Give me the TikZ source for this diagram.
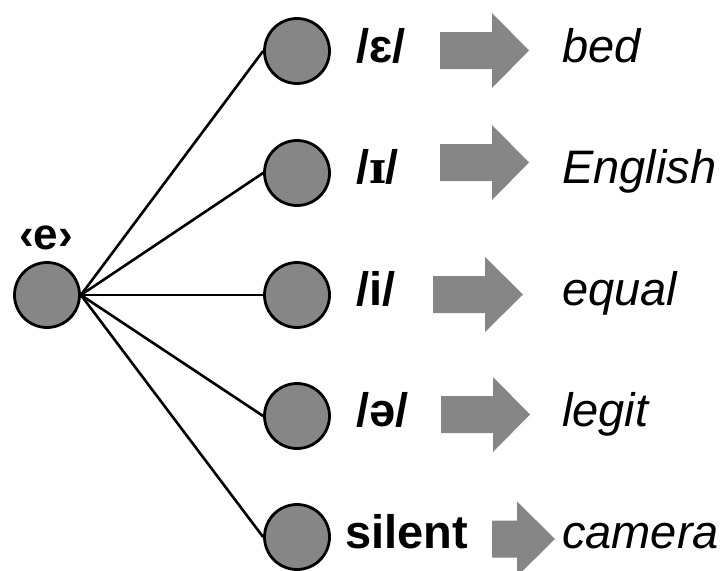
\documentclass[tikz,border=0pt]{standalone}
\usepackage{fontspec}
\setmainfont{Liberation Sans}
\newfontfamily\ipaserif{DejaVu Serif}
\definecolor{nodegray}{RGB}{134,134,134}
\begin{document}
\begin{tikzpicture}[x=1pt,y=-1pt,
  dot/.style={circle,draw=black,line width=2.8pt,fill=nodegray,minimum size=65pt,inner sep=0pt},
  link/.style={line width=2.6pt},
  phon/.style={anchor=base west,font=\fontsize{47}{50}\selectfont\bfseries,inner sep=0pt},
  word/.style={anchor=base west,font=\fontsize{47}{50}\selectfont\itshape,inner sep=0pt},
  blk/.style={fill=nodegray}]
\useasboundingbox (0,0) rectangle (725,570);
\node[dot] (e) at (47,295) {};
\node[anchor=base,font=\fontsize{44}{46}\selectfont\bfseries,inner sep=0pt] (elab) at (46,249) {‹e›};
\node[dot] (n1) at (297,51) {};
\node[dot] (n2) at (297,173) {};
\node[dot] (n3) at (297,295) {};
\node[dot] (n4) at (297,416) {};
\node[dot] (n5) at (297,537) {};
\foreach \i in {1,...,5} \draw[link] (e.east) -- (n\i.west);
\node[phon] (p1) at (356,62) {/ɛ/};
\node[phon] (p2) at (356,183.5) {/{\ipaserif\fontsize{44}{46}\selectfont ɪ}/};
\node[phon] (p3) at (356,305) {/i/};
\node[phon] (p4) at (356,426.5) {/ə/};
\node[phon] (p5) at (345,548) {silent};
\foreach \a/\b/\t/\c in {440/492/529/50.5, 440/492/529/162.5, 433/485/523/294.5, 441/493/530/414.5, 492/517/555/539}
  \fill[blk] (\a,\c-18.5) -- (\b,\c-18.5) -- (\b,\c-37.5) -- (\t,\c) -- (\b,\c+37.5) -- (\b,\c+18.5) -- (\a,\c+18.5) -- cycle;
\node[word] (w1) at (562,62) {bed};
\node[word] (w2) at (562,183.5) {English};
\node[word] (w3) at (562,305) {equal};
\node[word] (w4) at (562,426.5) {legit};
\node[word] (w5) at (562,548) {camera};
\end{tikzpicture}
\end{document}
